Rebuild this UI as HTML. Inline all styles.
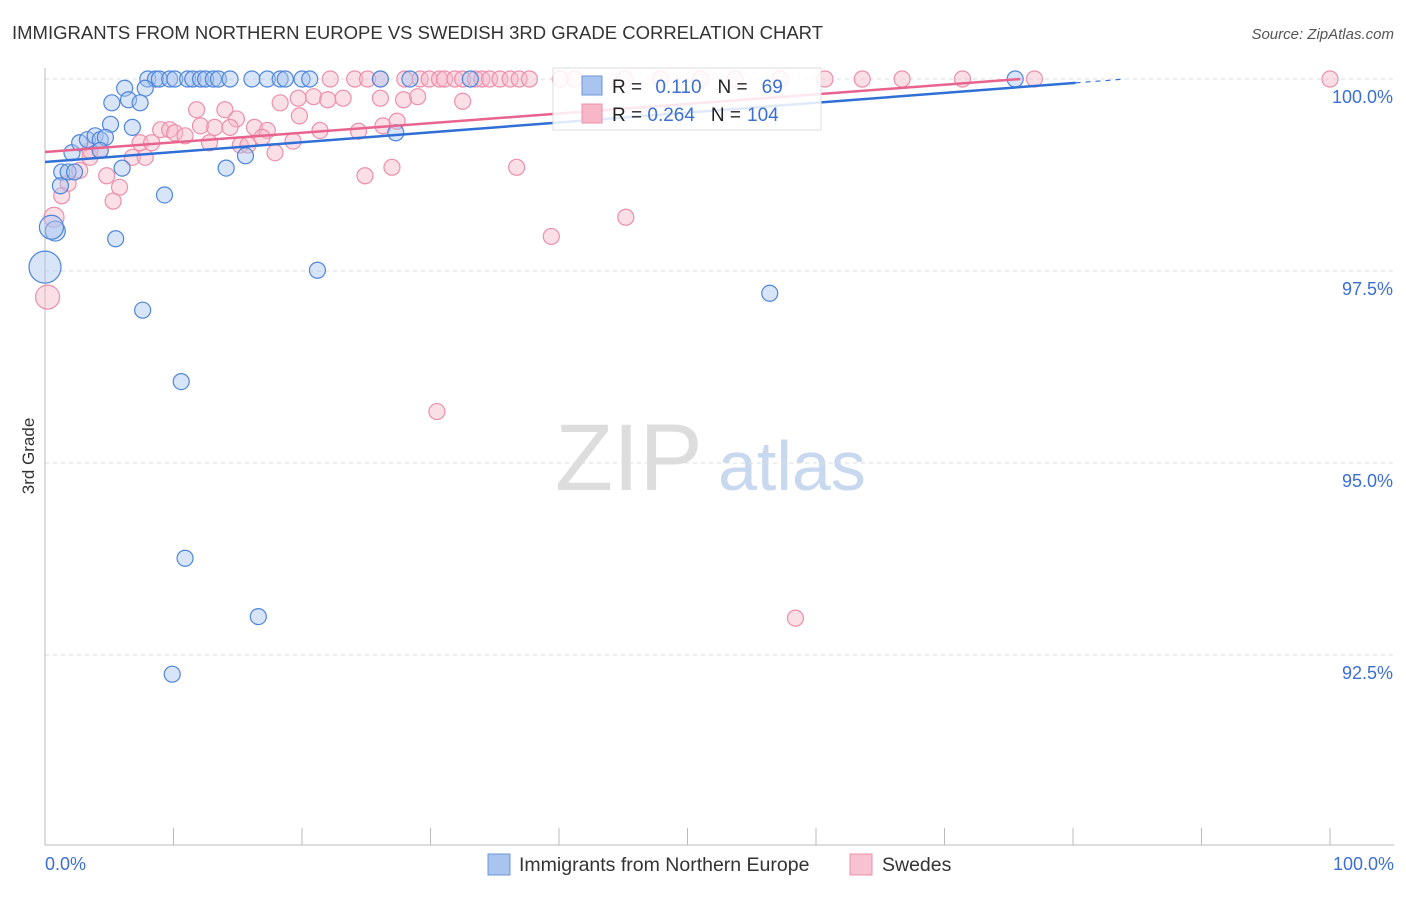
<!DOCTYPE html>
<html><head><meta charset="utf-8"><style>
body{margin:0;background:#fff;font-family:"Liberation Sans",sans-serif;}
svg text{font-family:"Liberation Sans",sans-serif;}
</style></head><body>
<svg id="c" width="1406" height="892" viewBox="0 0 1406 892">
<text x="12" y="39" font-size="18.5" fill="#333">IMMIGRANTS FROM NORTHERN EUROPE VS SWEDISH 3RD GRADE CORRELATION CHART</text>
<text x="1394" y="39" font-size="15" fill="#555" text-anchor="end" font-style="italic">Source: ZipAtlas.com</text>
<text x="34" y="456" font-size="17" fill="#333" text-anchor="middle" transform="rotate(-90 34 456)">3rd Grade</text>
<text x="555" y="490" font-size="95" fill="#ddd" font-family="Liberation Serif">ZIP</text>
<text x="718" y="490" font-size="70" fill="#c8d8ef">atlas</text>
<g id="grid"></g><g id="axes"></g><g id="pts"></g><g id="trend"></g>
<g>
<rect x="553" y="68" width="268" height="62" fill="#fff" fill-opacity="0.85" stroke="#ddd"/>
<rect x="582" y="76" width="20" height="19" fill="#a9c4ef" stroke="#6d95d8"/>
<rect x="582" y="104" width="20" height="19" fill="#f7b7c9" stroke="#ec8fab"/>
<text x="612" y="93" font-size="19" fill="#222">R = <tspan fill="#3b6fd1" dx="8">0.110</tspan><tspan fill="#222" dx="16">N =</tspan><tspan fill="#3b6fd1" dx="14">69</tspan></text>
<text x="612" y="121" font-size="19" fill="#222">R = <tspan fill="#3b6fd1">0.264</tspan><tspan fill="#222" dx="16">N =</tspan><tspan fill="#3b6fd1" dx="6">104</tspan></text>
</g>
<g>
<rect x="488" y="854" width="22" height="21" fill="#a9c4ef" stroke="#6d95d8"/>
<text x="519" y="871" font-size="19.5" fill="#333">Immigrants from Northern Europe</text>
<rect x="850" y="854" width="22" height="21" fill="#f7c3d2" stroke="#ec8fab"/>
<text x="882" y="871" font-size="19.5" fill="#333">Swedes</text>
</g>
</svg>
<script>
const yTicks=[100,97.5,95,92.5];
const yTickLabels=["100.0%","97.5%","95.0%","92.5%"];
const xTickLabels=["0.0%","100.0%"];
const bluePts=[[8.0,100],[8.6,100],[8.9,100],[9.7,100],[10.1,100],[11.1,100],[11.5,100],[12.1,100],[12.5,100],[13.1,100],[13.5,100],[14.4,100],[16.1,100],[17.3,100],[18.3,100],[18.7,100],[20.0,100],[20.6,100],[26.1,100],[28.4,100],[33.1,100],[75.5,100],
[6.2,99.88],[7.8,99.88],[5.2,99.69],[6.5,99.73],[7.4,99.69],[5.1,99.41],[6.8,99.37],[2.1,99.04],[2.7,99.17],[3.3,99.21],[3.9,99.26],[4.3,99.21],[4.7,99.24],[1.3,98.79],[1.8,98.79],[2.3,98.79],[1.2,98.61],[6.0,98.84],[9.3,98.49],[14.1,98.84],[15.6,99.0],[27.3,99.30],[0.8,98.02],[0.5,98.07],[0.0,97.55],[5.5,97.92],[7.6,96.99],[21.2,97.51],[10.6,96.06],[10.9,93.76],[16.6,93.0],[9.9,92.25],[56.4,97.21],[4.3,99.07]];
const blueSize=[8,8,8,8,8,8,8,8,8,8,8,8,8,8,8,8,8,8,8,8,8,8,8,8,8,8,8,8,8,8,8,8,8,8,8,8,8,8,8,8,8,8,8,8,10,12,16,8,8,8,8,8,8,8,8,8];
const pinkPts=[[22.2,100],[24.1,100],[25.1,100],[26.1,100],[28.0,100],[29.2,100],[29.9,100],[30.7,100],[31.1,100],[31.9,100],[32.5,100],[33.5,100],[34.0,100],[34.6,100],[35.4,100],[36.2,100],[36.9,100],[37.7,100],[40.1,100],[41.2,100],[45.1,100],[47.9,100],[51.0,100],[53.7,100],[57.2,100],[60.7,100],[63.6,100],[66.7,100],[71.4,100],[77.0,100],[100,100],
[11.8,99.6],[14.0,99.6],[18.3,99.69],[19.7,99.75],[20.9,99.77],[22.0,99.73],[23.2,99.75],[26.1,99.75],[27.9,99.73],[29.0,99.77],[32.5,99.71],[19.8,99.52],[14.9,99.48],[9.0,99.34],[9.7,99.34],[10.1,99.30],[10.9,99.26],[12.1,99.39],[13.2,99.37],[14.4,99.37],[16.3,99.37],[17.3,99.33],[21.4,99.33],[24.4,99.32],[26.3,99.39],[27.4,99.45],[7.4,99.17],[8.3,99.17],[12.8,99.17],[15.2,99.14],[15.8,99.14],[16.9,99.24],[19.3,99.19],[6.8,98.98],[7.8,98.98],[17.9,99.04],[3.5,98.98],[2.7,98.81],[1.8,98.64],[4.8,98.74],[5.8,98.59],[5.3,98.41],[1.3,98.48],[0.7,98.20],[0.2,97.16],[24.9,98.74],[27.0,98.85],[36.7,98.85],[39.4,97.95],[45.2,98.20],[30.5,95.67],[58.4,92.98],[3.5,99.07],[4.3,99.07]];
const pinkSize=pinkPts.map((p,i)=>(i==pinkPts.length-10?12:(i==pinkPts.length-11?10:8)));
const blueTrend=[[0,98.92],[80.2,99.95]];
const pinkTrend=[[0,99.05],[75.9,100]];
const X=v=>45+v*12.85, Y=v=>79+(100-v)*76.8;
const NS="http://www.w3.org/2000/svg";
function mk(t,a,p){const e=document.createElementNS(NS,t);for(const k in a)e.setAttribute(k,a[k]);p.appendChild(e);return e;}
const grid=document.getElementById('grid'),axes=document.getElementById('axes'),pts=document.getElementById('pts'),tr=document.getElementById('trend');
yTicks.forEach((t,i)=>{
 const l=mk('line',{x1:45,x2:1394,y1:Y(t),y2:Y(t),stroke:'#ddd','stroke-dasharray':'4,4'},grid);
 
 
 const tx=mk('text',{x:1393,y:Y(t)+24,'font-size':18,fill:'#3b6fd1','text-anchor':'end'},axes);tx.textContent=yTickLabels[i];
 
 
});
const ax=mk('line',{x1:45,x2:45,y1:68,y2:845,stroke:'#bbb'},axes);


const bx=mk('line',{x1:45,x2:1394,y1:845,y2:845,stroke:'#bbb'},axes);


for(let k=0;k<=10;k++){const t=mk('line',{x1:X(k*10),x2:X(k*10),y1:828,y2:845,stroke:'#bbb'},axes);
 
 }
[[0,'start',45],[1,'end',1394]].forEach(([i,a,x])=>{const t=mk('text',{x:x,y:870,'font-size':18,fill:'#3b6fd1','text-anchor':a},axes);t.textContent=xTickLabels[i];
 
 });
pinkPts.forEach((p,i)=>{const c=mk('circle',{cx:X(p[0]),cy:Y(p[1]),r:pinkSize[i],fill:'#f7b7c9','fill-opacity':0.45,stroke:'#ec8fab','stroke-width':1.2},pts);
 
 });
bluePts.forEach((p,i)=>{const c=mk('circle',{cx:X(p[0]),cy:Y(p[1]),r:blueSize[i],fill:'#a9c4ef','fill-opacity':0.45,stroke:'#4f86d9','stroke-width':1.2},pts);
 
 });
const bl=mk('line',{x1:X(blueTrend[0][0]),y1:Y(blueTrend[0][1]),x2:X(blueTrend[1][0]),y2:Y(blueTrend[1][1]),stroke:'#2f6fd6','stroke-width':2.5},tr);


const s=(blueTrend[1][1]-blueTrend[0][1])/(blueTrend[1][0]-blueTrend[0][0]);
const bd=mk('line',{x1:X(blueTrend[1][0]),y1:Y(blueTrend[1][1]),x2:X(84),y2:Y(blueTrend[1][1]+s*(84-blueTrend[1][0])),stroke:'#2f6fd6','stroke-width':1.2,'stroke-dasharray':'5,5'},tr);


const pl=mk('line',{x1:X(pinkTrend[0][0]),y1:Y(pinkTrend[0][1]),x2:X(pinkTrend[1][0]),y2:Y(pinkTrend[1][1]),stroke:'#e8638e','stroke-width':2.5},tr);


</script>
</body></html>
